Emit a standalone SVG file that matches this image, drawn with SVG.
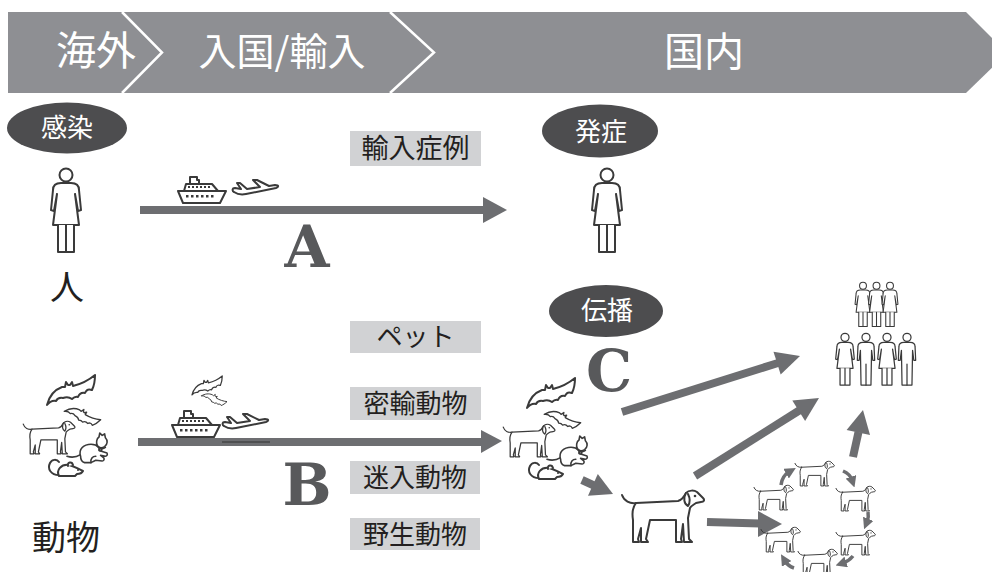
<svg xmlns="http://www.w3.org/2000/svg" xmlns:xlink="http://www.w3.org/1999/xlink" width="992" height="572" viewBox="0 0 992 572">
<style>
.jp{font-family:"Noto Sans CJK JP","Noto Sans",sans-serif}
.band{font-size:40px;fill:#fff;text-anchor:middle}
.tag{font-size:26px;fill:#fff;text-anchor:middle}
.lbl{font-size:26px;fill:#231f20;text-anchor:middle}
.big{font-size:34px;fill:#231f20;text-anchor:middle}
.letter{font-family:"DejaVu Serif","Liberation Serif",serif;font-weight:bold;font-size:58px;fill:#58595b;text-anchor:middle}
.ico{fill:#fff;stroke:#3a3a3a;stroke-width:2;stroke-linejoin:round;stroke-linecap:round}
.ln{fill:none;stroke:#3a3a3a;stroke-width:2;stroke-linecap:round;stroke-linejoin:round}
.dot{fill:#3a3a3a}
.shaft{stroke:#6d6e71;stroke-width:8;fill:none}
.head{fill:#6d6e71}
.ring{stroke:#6d6e71;stroke-width:3.5;fill:none;marker-end:url(#tip)}
.box{fill:#d1d2d4}
.pill{fill:#4d4d4f}
.chev{fill:none;stroke:#fff;stroke-width:2.5}
</style>
<defs>
  <marker id="tip" viewBox="0 0 10 10" refX="3" refY="5" markerWidth="3.2" markerHeight="3.2" orient="auto">
    <path d="M0,0 L10,5 L0,10 Z" fill="#6d6e71"/>
  </marker>
  <!-- standing woman, head top at (0,0) -->
  <g id="woman">
    <circle class="ico" cx="0" cy="7" r="6.5"/>
    <path class="ico" d="M-5,15 C-11,15 -13,18 -13,22 L-15,42 L-12,43 L-9,26 L-13,57 L13,57 L9,26 L12,43 L15,42 L13,22 C13,18 11,15 5,15 Z"/>
    <path class="ico" d="M-8,57 L-8,84 L8,84 L8,57 M0,57 L0,84"/>
  </g>
  <!-- standing man, head top at (0,0) -->
  <g id="man">
    <circle class="ico" cx="0" cy="7" r="6.5"/>
    <path class="ico" d="M-5,15 C-11,15 -13,18 -13,22 L-14,44 L-11,44 L-9,28 L-8,84 L8,84 L9,28 L11,44 L14,44 L13,22 C13,18 11,15 5,15 Z"/>
    <path class="ln" d="M0,50 L0,84"/>
  </g>
  <!-- dog facing right, 84 x 52 -->
  <g id="dog">
    <path class="ln" d="M16,13 C10,14 4,11 2,5"/>
    <path class="ico" d="M16,13 L58,11 C62,10 64,7 66,3 C69,0 74,0 77,2 L83,8 C85,10 84,12 81,12 L76,13 C73,15 71,16 70,18 L68,28 L69,49 L72,52 L64,52 L63,34 L61,49 L62,52 L56,52 L56,30 L30,30 L26,49 L28,52 L21,52 L21,38 L18,49 L19,52 L13,52 L13,30 C12,24 12,18 16,13 Z"/>
    <path class="ico" d="M66,3 C63,8 64,14 68,16 C70,13 70,8 68,4"/>
    <circle class="dot" cx="75" cy="6" r="1.3"/>
  </g>
  <!-- bat with spread wings, 48 x 32 -->
  <g id="bat">
    <path class="ico" d="M0,30 C2,22 7,15 15,12 L18,12 L19,7 L21,10 L23,10 L25,7 L26,11 C34,9 42,5 48,0 C48,6 47,11 45,15 Q40,13 38,18 Q33,17 31,22 Q28,21 25,24 Q21,21 16,23 Q11,22 9,26 Q4,25 0,30 Z"/>
  </g>
  <!-- crouching cat with collar, 52 x 37 -->
  <g id="cat">
    <path class="ln" d="M0,29 C6,31 12,30 17,27"/>
    <path class="ico" d="M17,29 C14,20 21,14 30,14 C34,14 37,15 40,18 L40,22 L50,25 C51,27 50,29 48,29 L42,28 L46,31 C47,33 46,35 44,35 L36,34 L30,37 L22,37 C18,36 17,33 17,29 Z"/>
    <path class="ico" d="M38,16 C36,12 37,7 40,5 L41,0 L44,3 L47,1 L48,6 C51,9 51,14 47,17 C44,19 40,19 38,16 Z"/>
    <path class="ln" d="M37,15 C39,19 44,21 48,18 M30,37 C29,32 32,29 36,29"/>
    <circle class="ico" cx="42" cy="21" r="1.5"/>
  </g>
  <!-- mouse, 36 x 18 -->
  <g id="mouse">
    <path class="ln" d="M12,16 C4,16 0,10 3,4 C5,0 10,0 12,3"/>
    <path class="ico" d="M12,17 C9,11 14,5 22,6 C27,7 31,10 36,12 C35,14 33,15 30,15 L28,17 Z"/>
    <path class="ico" d="M21,7 C20,3 25,2 26,6"/>
    <circle class="dot" cx="31" cy="11" r="1"/>
  </g>
  <!-- cruise ship, 48 x 28 -->
  <g id="ship">
    <path class="ico" d="M12,8 V1 H19 V4 H21 V8"/>
    <path class="ico" d="M6,15 L8,8 H34 L40,15"/>
    <path class="ico" d="M0,15 H48 L42,27 H5 Z"/>
    <g class="dot">
      <rect x="10" y="10" width="2" height="2"/><rect x="14" y="10" width="2" height="2"/><rect x="18" y="10" width="2" height="2"/><rect x="22" y="10" width="2" height="2"/><rect x="26" y="10" width="2" height="2"/><rect x="30" y="10" width="2" height="2"/>
      <rect x="8" y="19" width="2.5" height="2.5"/><rect x="13" y="19" width="2.5" height="2.5"/><rect x="18" y="19" width="2.5" height="2.5"/><rect x="23" y="19" width="2.5" height="2.5"/><rect x="28" y="19" width="2.5" height="2.5"/><rect x="33" y="19" width="2.5" height="2.5"/>
    </g>
  </g>
  <!-- airliner climbing right, 46 x 16 -->
  <g id="plane">
    <path class="ico" d="M2,13 C0,12 0,9 3,9 L9,10 L5,4 L8,4 L15,10 L28,8 L21,1 L25,1 L37,7 L43,6 C47,6 47,8 44,9 L14,15 C9,16 5,15 2,13 Z"/>
  </g>
  <!-- mixed animal cluster -->
  <g id="animals">
    <use xlink:href="#bat" transform="translate(47,375)"/>
    <use xlink:href="#bat" transform="translate(82,416) rotate(45) scale(0.66) translate(-24,-16)"/>
    <use xlink:href="#dog" transform="translate(22,421) scale(0.63)"/>
    <use xlink:href="#cat" transform="translate(67,433) scale(0.8)"/>
    <use xlink:href="#mouse" transform="translate(47,459)"/>
  </g>
</defs>

<!-- phase banner -->
<g id="banner">
  <polygon points="8,12 966,12 1007,53 966,93 8,93" fill="#8e8f93"/>
  <polyline class="chev" points="122,12 162,52.5 122,93"/>
  <polyline class="chev" points="390,12 434,52.5 390,93"/>
  <text class="jp band" x="96" y="65">海外</text>
  <text class="jp band" x="282" y="65" style="font-size:38px">入国/輸入</text>
  <text class="jp band" x="704" y="66">国内</text>
</g>

<g id="connectors">
  <!-- A: imported human case -->
  <line class="shaft" x1="140" y1="210" x2="485" y2="210"/>
  <polygon class="head" points="483,197 507,210 483,223"/>
  <!-- B: imported animals -->
  <line class="shaft" x1="138" y1="442" x2="483" y2="442"/>
  <polygon class="head" points="481,430 502,441 481,453"/>
  <line x1="222" y1="442" x2="270" y2="442" stroke="#333" stroke-width="1"/>
  <!-- C: spread -->
  <line class="shaft" x1="622" y1="412" x2="778" y2="363"/>
  <polygon class="head" points="780.7,374.6 800,356 773.5,351.8"/>
  <line class="shaft" x1="695" y1="476" x2="800" y2="410"/>
  <polygon class="head" points="805.1,421 819,398 792.3,400.6"/>
  <line class="shaft" x1="853" y1="457" x2="858.5" y2="432"/>
  <polygon class="head" points="870,435 863,410 846.6,430"/>
  <line class="shaft" x1="707" y1="522" x2="760" y2="523.5"/>
  <polygon class="head" points="758,511 782,524 758,537"/>
  <line class="shaft" x1="582" y1="480" x2="594" y2="485.5"/>
  <polygon class="head" points="588,495.8 613,494 597.8,474"/>
  <!-- dog-to-dog cycle -->
  <path class="ring" d="M781,485 Q782,476 789,472"/>
  <path class="ring" d="M843,471 Q850,474 852,480"/>
  <path class="ring" d="M868,512 Q869,517 867,522"/>
  <path class="ring" d="M853,556 Q849,561 843,563"/>
  <path class="ring" d="M794,568 Q788,566 785,561"/>
</g>

<!-- overseas infection -->
<g id="infected">
  <ellipse class="pill" cx="67" cy="128" rx="60" ry="25.5"/>
  <text class="jp tag" x="67" y="137">感染</text>
</g>
<g id="human-src">
  <use xlink:href="#woman" transform="translate(66,168)"/>
  <text class="jp big" x="67" y="300">人</text>
</g>
<g id="animal-src">
  <use xlink:href="#animals"/>
  <text class="jp big" x="66" y="550">動物</text>
</g>

<!-- transport icons -->
<g id="transport-a">
  <use xlink:href="#ship" transform="translate(178,176)"/>
  <use xlink:href="#plane" transform="translate(232,179)"/>
</g>
<g id="transport-b">
  <use xlink:href="#bat" transform="translate(192,376) scale(0.63)"/>
  <use xlink:href="#bat" transform="translate(214,399) rotate(45) scale(0.46) translate(-24,-16)"/>
  <use xlink:href="#ship" transform="translate(172,410)"/>
  <use xlink:href="#plane" transform="translate(222,413)"/>
</g>

<!-- route letters -->
<text class="letter" x="307" y="267">A</text>
<text class="letter" x="307" y="505">B</text>
<text class="letter" x="609" y="391">C</text>

<!-- route labels -->
<g id="lbl-case"><rect class="box" x="350" y="131" width="131" height="35"/><text class="jp lbl" x="415.5" y="158" style="font-size:27px">輸入症例</text></g>
<g id="lbl-pet"><rect class="box" x="350" y="321" width="131" height="32"/><text class="jp lbl" x="415.5" y="346">ペット</text></g>
<g id="lbl-smuggled"><rect class="box" x="350" y="387" width="131" height="33"/><text class="jp lbl" x="415.5" y="413">密輸動物</text></g>
<g id="lbl-stray"><rect class="box" x="350" y="461" width="130" height="33"/><text class="jp lbl" x="415" y="487">迷入動物</text></g>
<g id="lbl-wild"><rect class="box" x="350" y="518" width="130" height="32"/><text class="jp lbl" x="415" y="544">野生動物</text></g>

<!-- domestic onset -->
<g id="onset">
  <ellipse class="pill" cx="600" cy="131" rx="58" ry="26.5"/>
  <text class="jp tag" x="601" y="141">発症</text>
  <use xlink:href="#woman" transform="translate(607,168)"/>
</g>

<!-- domestic spread -->
<g id="spread">
  <ellipse class="pill" cx="606" cy="311" rx="57" ry="26"/>
  <text class="jp tag" x="607" y="320">伝播</text>
</g>
<g id="animal-dst">
  <use xlink:href="#animals" transform="translate(480,3)"/>
</g>
<g id="pet-dog">
  <use xlink:href="#dog" transform="translate(620,490)"/>
</g>
<g id="dog-ring">
  <use xlink:href="#dog" transform="translate(794,461) scale(0.48)"/>
  <use xlink:href="#dog" transform="translate(835,486) scale(0.48)"/>
  <use xlink:href="#dog" transform="translate(835,530) scale(0.48)"/>
  <use xlink:href="#dog" transform="translate(797,549) scale(0.48)"/>
  <use xlink:href="#dog" transform="translate(760,527) scale(0.48)"/>
  <use xlink:href="#dog" transform="translate(753,485) scale(0.48)"/>
</g>
<g id="crowd">
  <use xlink:href="#woman" transform="translate(863,282) scale(0.53)"/>
  <use xlink:href="#woman" transform="translate(876.5,282) scale(0.53)"/>
  <use xlink:href="#woman" transform="translate(890,282) scale(0.53)"/>
  <use xlink:href="#woman" transform="translate(845,333) scale(0.62)"/>
  <use xlink:href="#man" transform="translate(866,333) scale(0.62)"/>
  <use xlink:href="#woman" transform="translate(887,333) scale(0.62)"/>
  <use xlink:href="#man" transform="translate(907,333) scale(0.62)"/>
</g>
</svg>
